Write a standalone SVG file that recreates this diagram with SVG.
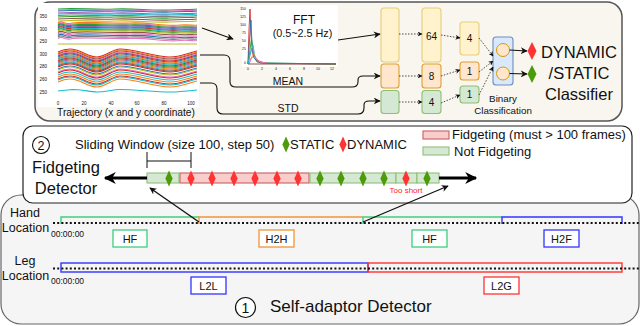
<svg xmlns="http://www.w3.org/2000/svg" width="640" height="326" viewBox="0 0 640 326">
<defs>
<style>
text{font-family:"Liberation Sans",Arial,sans-serif;fill:#111}
.y{fill:#fff2cc;stroke:#e6cf7a;stroke-width:1.1}
.o{fill:#ffe6cc;stroke:#e0a030;stroke-width:1.1}
.g{fill:#d5e8d4;stroke:#8fbf75;stroke-width:1.1}
.r{fill:#f8cecc;stroke:#c96060;stroke-width:1.1}
.dot{fill:none;stroke:#222;stroke-width:0.8;stroke-dasharray:1.5 1.5}
.ln{fill:none;stroke:#111;stroke-width:1.1}
.tk{font-size:4.5px;fill:#555}
.dr{fill:#ff3333}
.dg{fill:#4d9a0a}
.num{font-size:10px;text-anchor:middle}
.box{fill:#fff;stroke-width:1.3}
.bl{font-size:11px;text-anchor:middle}
.tl{fill:none;stroke:#111;stroke-width:2;stroke-dasharray:2 2.2}
</style>
<marker id="a" viewBox="0 0 10 10" refX="9" refY="5" markerWidth="7" markerHeight="7" markerUnits="userSpaceOnUse" orient="auto"><path d="M0,0 L10,5 L0,10 L3,5z" fill="#111"/></marker>
<marker id="ad" viewBox="0 0 10 10" refX="9" refY="5" markerWidth="5" markerHeight="5" markerUnits="userSpaceOnUse" orient="auto"><path d="M0,0 L10,5 L0,10 L3,5z" fill="#111"/></marker>
<marker id="ab" viewBox="0 0 10 10" refX="9" refY="5" markerWidth="14" markerHeight="12" markerUnits="userSpaceOnUse" orient="auto"><path d="M0,0 L10,5 L0,10 L3,5z" fill="#000"/></marker>
<path id="wv" d="M58,-1 C62,-3 66,-4 70,-4 C80,-4 88,4 97,4 C106,4 112,-4 120,-4 C135,-4 155,4 170,4 C180,4 188,0 197,-2"/>
<path id="fl" d="M58,0 C75,-1.5 95,1 115,0 C135,-1 150,2 170,1 C182,0 190,1 197,0"/>
<path id="fl2" d="M58,0 C62,-4 66,3 72,0 C90,-2 110,1 130,0 C150,-1 165,4 180,2 C190,1 194,3 197,2"/>
<path id="dm" d="M0,-8 L3.6,0 L0,8 L-3.6,0z"/>
<path id="dmL" d="M0,-9 L4.5,0 L0,9 L-4.5,0z"/>
</defs>

<!-- bottom panel -->
<g id="self-adaptor-panel">
<rect x="1" y="195" width="638" height="129" rx="20" fill="#f5f5f5" stroke="#666" stroke-width="1.2"/>
<circle cx="245.5" cy="307.5" r="10" fill="#fff" stroke="#111" stroke-width="1.2"/>
<text x="245.5" y="312.5" font-size="14" text-anchor="middle">1</text>
<text x="270" y="312" font-size="17">Self-adaptor Detector</text>
</g>

<g id="hand-timeline">
<text x="25" y="217" font-size="12.5" text-anchor="middle">Hand</text>
<text x="25.5" y="232" font-size="12.5" text-anchor="middle">Location</text>
<text x="51" y="237" font-size="8.5">00:00:00</text>
<path d="M61,224 V217 H199" fill="none" stroke="#3ccf7e" stroke-width="1.4"/>
<path d="M199,224 V217 H363" fill="none" stroke="#f0943a" stroke-width="1.4"/>
<path d="M363,224 V217 H502" fill="none" stroke="#3ccf7e" stroke-width="1.4"/>
<path d="M502,224 V217 H622 V224" fill="none" stroke="#3333ff" stroke-width="1.4"/>
<line x1="53" y1="223" x2="640" y2="223" class="tl"/>
<rect x="113" y="230" width="34" height="17" class="box" stroke="#3ccf7e"/>
<text x="130" y="243" class="bl">HF</text>
<rect x="259" y="230" width="35" height="17" class="box" stroke="#f0943a"/>
<text x="276.5" y="243" class="bl">H2H</text>
<rect x="412" y="230" width="35" height="17" class="box" stroke="#3ccf7e"/>
<text x="429.5" y="243" class="bl">HF</text>
<rect x="544" y="230" width="35" height="17" class="box" stroke="#3333ff"/>
<text x="561.5" y="243" class="bl">H2F</text>
</g>

<g id="leg-timeline">
<text x="25" y="265" font-size="12.5" text-anchor="middle">Leg</text>
<text x="25.5" y="280" font-size="12.5" text-anchor="middle">Location</text>
<text x="51" y="284" font-size="8.5">00:00:00</text>
<rect x="61" y="263" width="307" height="9" fill="none" stroke="#3333ff" stroke-width="1.4"/>
<rect x="368" y="263" width="254" height="9" fill="none" stroke="#ff3333" stroke-width="1.4"/>
<line x1="53" y1="268.5" x2="640" y2="268.5" class="tl"/>
<rect x="191" y="277" width="35" height="17" class="box" stroke="#3333ff"/>
<text x="208.5" y="290" class="bl">L2L</text>
<rect x="484" y="277" width="35" height="17" class="box" stroke="#ff3333"/>
<text x="501.5" y="290" class="bl">L2G</text>
</g>

<!-- fidgeting panel -->
<g id="fidgeting-panel">
<rect x="23" y="126" width="609" height="77" rx="10" fill="#fff" stroke="#222" stroke-width="1.2"/>
<circle cx="41" cy="145" r="8.5" fill="#fff" stroke="#111" stroke-width="1.1"/>
<text x="41" y="149.5" font-size="12.5" text-anchor="middle">2</text>
<text x="66" y="173" font-size="16.5" text-anchor="middle">Fidgeting</text>
<text x="66" y="194" font-size="16.5" text-anchor="middle">Detector</text>
<text x="75" y="148.5" font-size="13">Sliding Window (size 100, step 50)</text>
<use href="#dm" x="286" y="144.5" class="dg"/>
<text x="290" y="148.5" font-size="13">STATIC</text>
<use href="#dm" x="343" y="144.5" class="dr"/>
<text x="347" y="148.5" font-size="13">DYNAMIC</text>
<rect x="423" y="131" width="26" height="8" class="r"/>
<text x="452" y="139" font-size="13">Fidgeting (must &gt; 100 frames)</text>
<rect x="423" y="147" width="26" height="8" class="g"/>
<text x="454" y="156" font-size="13">Not Fidgeting</text>
<path d="M147,152 V168 M191,152 V168 M147,161 H191" fill="none" stroke="#111" stroke-width="1"/>
<rect x="147" y="173" width="32" height="10" class="g"/>
<rect x="180" y="173" width="129" height="10" class="r"/>
<rect x="310" y="173" width="86" height="10" class="g"/>
<rect x="396" y="173" width="21" height="10" class="g"/>
<rect x="417" y="173" width="22" height="10" class="g"/>
<use href="#dm" x="169" y="178.5" class="dg"/>
<use href="#dm" x="191" y="178.5" class="dr"/>
<use href="#dm" x="212" y="178.5" class="dr"/>
<use href="#dm" x="234" y="178.5" class="dr"/>
<use href="#dm" x="255" y="178.5" class="dr"/>
<use href="#dm" x="277" y="178.5" class="dr"/>
<use href="#dm" x="298" y="178.5" class="dr"/>
<use href="#dm" x="320" y="178.5" class="dg"/>
<use href="#dm" x="341" y="178.5" class="dg"/>
<use href="#dm" x="363" y="178.5" class="dg"/>
<use href="#dm" x="384" y="178.5" class="dg"/>
<use href="#dm" x="406" y="178.5" class="dr"/>
<use href="#dm" x="427" y="178.5" class="dg"/>
<text x="406" y="193" font-size="8" text-anchor="middle" style="fill:#ff2222">Too short</text>
</g>

<!-- top panel -->
<g id="classifier-panel">
<rect x="35" y="2" width="587" height="119" rx="15" fill="#f8f6ee" stroke="#555" stroke-width="1.5"/>
</g>

<g id="trajectory-chart">
<rect x="38" y="3" width="161" height="104" fill="#fff"/>
<g class="tk" text-anchor="end">
<text x="47" y="17.5">350</text><text x="47" y="30.5">300</text><text x="47" y="42.5">250</text>
<text x="47" y="55.5">300</text><text x="47" y="67.5">280</text><text x="47" y="80.5">260</text><text x="47" y="93.5">250</text>
</g>
<g class="tk" text-anchor="middle">
<text x="58" y="105">0</text><text x="84" y="105">20</text><text x="111" y="105">40</text>
<text x="137" y="105">60</text><text x="164" y="105">80</text><text x="191" y="105">100</text>
</g>
<g fill="none" stroke-width="1.1">
<use href="#fl" y="9" stroke="#2ca02c"/><use href="#fl" y="10" stroke="#e377c2"/><use href="#fl" y="11" stroke="#1f77b4"/>
<use href="#fl" y="13" stroke="#9467bd"/><use href="#fl" y="14" stroke="#17becf"/><use href="#fl" y="15.5" stroke="#7f7f7f"/>
<use href="#fl" y="17" stroke="#2ca02c"/><use href="#fl" y="19" stroke="#8c564b"/><use href="#fl" y="21" stroke="#bcbd22"/>
<use href="#fl2" y="23" stroke="#ff7f0e"/><use href="#fl2" y="24" stroke="#e377c2"/><use href="#fl2" y="25" stroke="#2ca02c"/>
<use href="#fl2" y="26" stroke="#1f77b4"/><use href="#fl2" y="27" stroke="#9467bd"/><use href="#fl2" y="28" stroke="#d62728"/>
<use href="#fl2" y="29" stroke="#17becf"/><use href="#fl2" y="30" stroke="#2ca02c"/><use href="#fl2" y="31" stroke="#bcbd22"/>
<use href="#fl2" y="32.5" stroke="#8c564b"/><use href="#fl2" y="34" stroke="#e377c2"/><use href="#fl2" y="35.5" stroke="#1f77b4"/>
<use href="#fl2" y="37" stroke="#7f7f7f"/><use href="#fl2" y="38.5" stroke="#e377c2"/>
<line x1="58" y1="44" x2="197" y2="44" stroke="#bcbd22"/>
<use href="#wv" y="53" stroke="#d62728"/><use href="#wv" y="54" stroke="#ff7f0e"/><use href="#wv" y="55" stroke="#8c564b"/>
<use href="#wv" y="56" stroke="#e377c2"/><use href="#wv" y="57" stroke="#d62728"/><use href="#wv" y="58" stroke="#1f77b4"/>
<use href="#wv" y="59" stroke="#ff7f0e"/><use href="#wv" y="60" stroke="#7f7f7f"/><use href="#wv" y="61" stroke="#17becf"/>
<use href="#wv" y="62" stroke="#d62728"/><use href="#wv" y="63" stroke="#2ca02c"/><use href="#wv" y="64" stroke="#9467bd"/>
<use href="#wv" y="65" stroke="#ff7f0e"/><use href="#wv" y="66" stroke="#17becf"/><use href="#wv" y="67" stroke="#8c564b"/>
<use href="#wv" y="68" stroke="#d62728"/><use href="#wv" y="70" stroke="#1f77b4"/><use href="#wv" y="71" stroke="#bcbd22"/>
<use href="#wv" y="73" stroke="#e377c2"/><use href="#wv" y="74" stroke="#d62728"/><use href="#wv" y="76" stroke="#17becf"/>
<use href="#wv" y="78" stroke="#ff7f0e"/><use href="#wv" y="80" stroke="#d62728"/><use href="#wv" y="81" stroke="#17becf"/>
<use href="#wv" y="83" stroke="#ff7f0e"/>
<path d="M58,91 C64,90 68,90 72,89.5 C82,89.5 90,92 97,92 C106,92 112,89.5 120,89.5 C135,89.5 155,92 170,92 C180,92 188,91 197,90" stroke="#17becf"/>
</g>
<text x="126" y="116" font-size="10.2" text-anchor="middle">Trajectory (x and y coordinate)</text>
</g>

<g id="fft-chart">
<rect x="242" y="5" width="96" height="62" fill="#fff"/>
<g class="tk" style="font-size:3.5px" text-anchor="end">
<text x="246" y="10">150</text><text x="246" y="18">125</text><text x="246" y="26">100</text><text x="246" y="34">75</text>
<text x="246" y="42">50</text><text x="246" y="50">25</text><text x="246" y="64">0</text>
</g>
<g class="tk" style="font-size:3.5px" text-anchor="middle">
<text x="248" y="70">0</text><text x="262" y="70">2</text><text x="276" y="70">4</text><text x="290" y="70">6</text>
<text x="304" y="70">8</text><text x="318" y="70">10</text><text x="332" y="70">12</text>
</g>
<g fill="none" stroke-width="0.9">
<path d="M248,64 L249,30 L250,9 L251,35 L253,55 L257,62 L270,63.5 L336,64" stroke="#d62728"/>
<path d="M248,64 L249.5,40 L251,20 L252,45 L254,58 L260,63 L336,64" stroke="#1f77b4"/>
<path d="M248,64 L250,50 L251.5,38 L253,52 L256,60 L262,63 L336,64" stroke="#2ca02c"/>
<path d="M248,64 L250,55 L252,48 L254,56 L258,61 L265,63" stroke="#9467bd"/>
<path d="M248,64 L250.5,52 L253,45 L255,58 L260,62" stroke="#17becf"/>
<path d="M249,64 L251,58 L254,54 L257,60 L263,62.5" stroke="#ff7f0e"/>
<path d="M249,64 L252,57 L256,58 L260,62 L268,63" stroke="#e377c2"/>
<path d="M248,64 L336,64" stroke="#8c564b" stroke-width="1.2"/>
</g>
<text x="304" y="23.5" font-size="12" text-anchor="middle">FFT</text>
<text x="302.5" y="37" font-size="10.8" text-anchor="middle">(0.5~2.5 Hz)</text>
</g>

<g id="layer-1">
<rect x="381" y="8" width="18" height="54" rx="3" class="y"/>
<rect x="381" y="64" width="18" height="24" rx="3" class="o"/>
<rect x="381" y="90.5" width="18" height="23" rx="3" class="g"/>
</g>
<g id="layer-2">
<rect x="422" y="8" width="19" height="54" rx="3" class="y"/>
<text x="431.5" y="39.5" class="num">64</text>
<rect x="422" y="64" width="19" height="24" rx="3" class="o"/>
<text x="431.5" y="80" class="num">8</text>
<rect x="422" y="90.5" width="19" height="23" rx="3" class="g"/>
<text x="431.5" y="106" class="num">4</text>
</g>
<g id="layer-3">
<rect x="460" y="22" width="19" height="33" rx="3" class="y"/>
<text x="469.5" y="42" class="num">4</text>
<rect x="460" y="62" width="19" height="18" rx="3" class="o"/>
<text x="469.5" y="74.5" class="num">1</text>
<rect x="460" y="86" width="19" height="17" rx="3" class="g"/>
<text x="469.5" y="98" class="num">1</text>
</g>
<g id="binary-classification">
<rect x="493" y="37" width="20" height="48" rx="3" fill="#dae8fc" stroke="#6c8ebf" stroke-width="1.1"/>
<circle cx="503" cy="50" r="6.5" fill="#ffe6cc" stroke="#d79b00" stroke-width="1"/>
<circle cx="503" cy="73.5" r="6.5" fill="#ffe6cc" stroke="#d79b00" stroke-width="1"/>
<text x="503" y="102" font-size="9.8" text-anchor="middle" fill="#222">Binary</text>
<text x="503" y="113.5" font-size="9.8" text-anchor="middle" fill="#222">Classification</text>
</g>
<g id="classifier-output">
<use href="#dmL" x="532" y="51" class="dr"/>
<use href="#dmL" x="532" y="74" class="dg"/>
<text x="579" y="57.5" font-size="16.5" text-anchor="middle">DYNAMIC</text>
<text x="579" y="79" font-size="16.5" text-anchor="middle">/STATIC</text>
<text x="579" y="100" font-size="16.5" text-anchor="middle">Classifier</text>
</g>

<g id="connectors">
<line x1="202" y1="28" x2="233" y2="39" class="ln" marker-end="url(#a)"/>
<line x1="338" y1="40" x2="380" y2="34" class="ln" marker-end="url(#a)"/>
<path d="M200,55 H224 Q230,55 230,61 V82 Q230,87 236,87 H352 Q358,87 358,82 V80 Q358,76 363,76 H380" class="ln" marker-end="url(#a)"/>
<text x="288" y="85" font-size="10.5" text-anchor="middle">MEAN</text>
<path d="M200,83 H211 Q217,83 217,89 V108 Q217,114 223,114 H358 Q364,114 364,108 V105 Q364,101 369,101 H380" class="ln" marker-end="url(#a)"/>
<text x="288" y="111.5" font-size="10.5" text-anchor="middle">STD</text>
<line x1="399" y1="34" x2="422" y2="34" class="dot" marker-end="url(#ad)"/>
<line x1="399" y1="76" x2="422" y2="76" class="dot" marker-end="url(#ad)"/>
<line x1="399" y1="102" x2="422" y2="102" class="dot" marker-end="url(#ad)"/>
<line x1="441" y1="35" x2="460" y2="38" class="dot" marker-end="url(#ad)"/>
<line x1="441" y1="76" x2="460" y2="70" class="dot" marker-end="url(#ad)"/>
<line x1="441" y1="103" x2="460" y2="95" class="dot" marker-end="url(#ad)"/>
<line x1="479" y1="38" x2="493" y2="56" class="dot" marker-end="url(#ad)"/>
<line x1="479" y1="72" x2="493" y2="61" class="dot" marker-end="url(#ad)"/>
<line x1="479" y1="95" x2="493" y2="67" class="dot" marker-end="url(#ad)"/>
<line x1="509.5" y1="50" x2="527" y2="51" class="ln" marker-end="url(#a)"/>
<line x1="509.5" y1="73.5" x2="527" y2="74" class="ln" marker-end="url(#a)"/>
<line x1="147" y1="178" x2="105" y2="178" stroke="#000" stroke-width="3" marker-end="url(#ab)"/>
<line x1="439" y1="178" x2="476" y2="178" stroke="#000" stroke-width="3" marker-end="url(#ab)"/>
<line x1="199" y1="222" x2="150" y2="188" stroke="#111" stroke-width="1.3" marker-end="url(#a)"/>
<line x1="363" y1="222" x2="448" y2="186" stroke="#111" stroke-width="1.3" marker-end="url(#a)"/>
</g>
</svg>
